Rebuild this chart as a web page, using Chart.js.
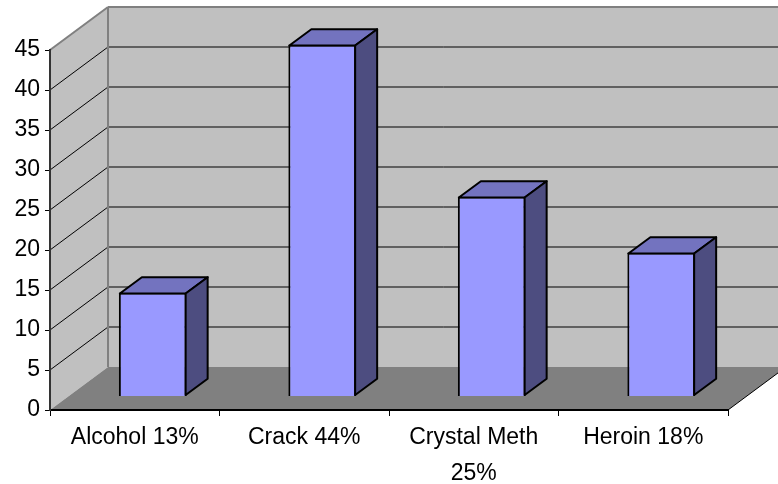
<!DOCTYPE html>
<html>
<head>
<meta charset="utf-8">
<script src="https://cdn.jsdelivr.net/npm/chart.js@4.4.0/dist/chart.umd.min.js"></script>
<style>
  html, body { margin: 0; padding: 0; background: #fff; }
  canvas { display: block; }
</style>
</head>
<body>
<canvas id="drugChart" width="778" height="484"></canvas>
<script>
// Data
const categories = ['Alcohol 13%', 'Crack 44%', ['Crystal Meth', '25%'], 'Heroin 18%'];
const counts = [13, 44, 25, 18];
const yMin = 0;
const yMax = 45;
const yStep = 5;

// 3D look (Excel-style): wall depth, where the bars sit, bar thickness
const WALL = { dx: 58, dy: -43 };
const BAR_SHIFT = { dx: 18, dy: -13.5 };
const BAR_DEPTH = { dx: 22, dy: -16.3 };

const FONT = { family: '"Liberation Sans", Arial, sans-serif', size: 23 };

function poly(ctx, pts, fill, stroke, width) {
    ctx.beginPath();
    ctx.moveTo(pts[0][0], pts[0][1]);
    for (let i = 1; i < pts.length; i++) ctx.lineTo(pts[i][0], pts[i][1]);
    ctx.closePath();
    if (fill) { ctx.fillStyle = fill; ctx.fill(); }
    if (stroke) { ctx.strokeStyle = stroke; ctx.lineWidth = width || 1; ctx.stroke(); }
}

function line(ctx, x1, y1, x2, y2, color, width) {
    ctx.beginPath();
    ctx.moveTo(x1, y1);
    ctx.lineTo(x2, y2);
    ctx.strokeStyle = color;
    ctx.lineWidth = width;
    ctx.stroke();
}

const box3d = {
    id: 'box3d',
    beforeDraw(chart) {
        const { ctx, chartArea: a, scales } = chart;
        const W = chart.width;
        const y = scales.y;
        const bx = a.left + WALL.dx;
        const topFront = y.getPixelForValue(yMax);
        const zeroFront = y.getPixelForValue(yMin);
        ctx.save();
        // back wall
        poly(ctx, [[bx, topFront + WALL.dy], [W + 20, topFront + WALL.dy],
                   [W + 20, zeroFront + WALL.dy], [bx, zeroFront + WALL.dy]], '#c0c0c0');
        // side wall
        poly(ctx, [[a.left, zeroFront], [a.left, topFront], [bx, topFront + WALL.dy],
                   [bx, zeroFront + WALL.dy]], '#c0c0c0');
        // floor
        poly(ctx, [[a.left, zeroFront], [a.right, zeroFront], [a.right + WALL.dx, zeroFront + WALL.dy],
                   [bx, zeroFront + WALL.dy]], '#808080');
        // grid lines on the walls
        y.ticks.forEach(t => {
            if (t.value <= yMin || t.value >= yMax) return;
            const fy = y.getPixelForValue(t.value);
            line(ctx, a.left, fy, bx, fy + WALL.dy, '#000', 1);
            line(ctx, bx, fy + WALL.dy, W + 20, fy + WALL.dy, '#000', 1);
        });
        // wall edges
        line(ctx, a.left, topFront, bx, topFront + WALL.dy, '#808080', 2);
        line(ctx, bx, topFront + WALL.dy, W + 20, topFront + WALL.dy, '#808080', 2);
        line(ctx, bx, topFront + WALL.dy, bx, zeroFront + WALL.dy, '#808080', 2);
        line(ctx, a.right, zeroFront, a.right + WALL.dx, zeroFront + WALL.dy, '#000', 1);
        ctx.restore();
    },
    beforeDatasetsDraw(chart) {
        chart.ctx.save();
        chart.ctx.translate(BAR_SHIFT.dx, BAR_SHIFT.dy);
    },
    afterDatasetsDraw(chart) {
        const ctx = chart.ctx;
        ctx.lineJoin = 'round';
        chart.getDatasetMeta(0).data.forEach(bar => {
            const { x, y, base, width } = bar.getProps(['x', 'y', 'base', 'width'], true);
            const l = x - width / 2 + 1;
            const r = x + width / 2 - 1;
            const t = y + 1;
            const b = base - 1;
            // top face
            poly(ctx, [[l, t], [r, t], [r + BAR_DEPTH.dx, t + BAR_DEPTH.dy], [l + BAR_DEPTH.dx, t + BAR_DEPTH.dy]],
                 '#7373bf', '#000', 2);
            // side face
            poly(ctx, [[r, t], [r + BAR_DEPTH.dx, t + BAR_DEPTH.dy], [r + BAR_DEPTH.dx, b + BAR_DEPTH.dy], [r, b]],
                 '#4d4d80', '#000', 2);
        });
        ctx.restore();
    }
};

new Chart(document.getElementById('drugChart'), {
    type: 'bar',
    data: {
        labels: categories,
        datasets: [{
            data: counts,
            backgroundColor: '#9999ff',
            borderColor: '#000',
            borderWidth: 2,
            barPercentage: 0.4,
            categoryPercentage: 1.0,
            clip: false
        }]
    },
    options: {
        responsive: false,
        devicePixelRatio: 1,
        animation: false,
        layout: { padding: { top: 50, right: 50, left: 0, bottom: 0 } },
        plugins: {
            legend: { display: false },
            tooltip: { enabled: false }
        },
        scales: {
            x: {
                afterFit(scale) { scale.height = 74; },
                grid: { drawOnChartArea: false, offset: true, tickLength: 6, color: '#000', lineWidth: 1 },
                border: { color: '#000', width: 2 },
                ticks: {
                    color: '#000',
                    font: { ...FONT, lineHeight: 1.55 },
                    padding: 4,
                    maxRotation: 0,
                    autoSkip: false
                }
            },
            y: {
                min: yMin,
                max: yMax,
                afterFit(scale) { scale.width = 50; },
                grid: { drawOnChartArea: false, tickLength: 5, color: '#000', lineWidth: 1 },
                border: { color: '#333', width: 2 },
                ticks: {
                    stepSize: yStep,
                    color: '#000',
                    font: FONT,
                    padding: 5
                }
            }
        }
    },
    plugins: [box3d]
});
</script>
</body>
</html>
